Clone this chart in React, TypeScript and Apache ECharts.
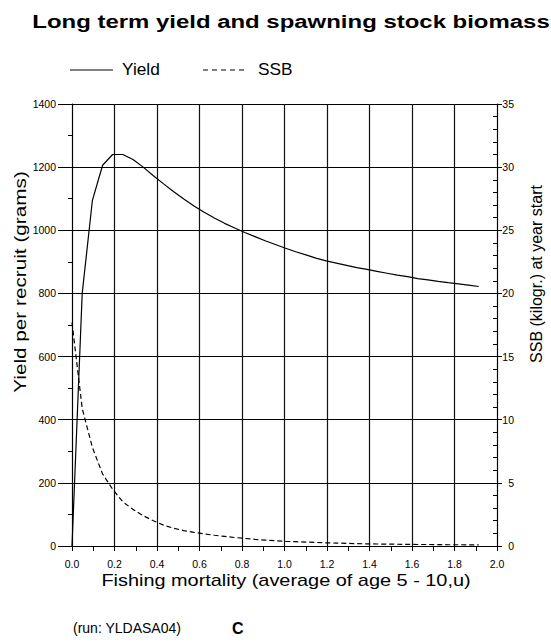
import React, { useEffect, useRef } from "react";
import * as echarts from "echarts";

// Fishing mortality (average of age 5 - 10)
const fishingMortality = [
  0, 0.048, 0.096, 0.144, 0.191, 0.239, 0.287, 0.335, 0.383, 0.431, 0.479,
  0.526, 0.574, 0.622, 0.67, 0.718, 0.766, 0.813, 0.861, 0.909, 0.957,
  1.005, 1.053, 1.101, 1.148, 1.196, 1.244, 1.292, 1.34, 1.388, 1.435,
  1.483, 1.531, 1.579, 1.627, 1.675, 1.723, 1.77, 1.818, 1.866, 1.914,
];

// Yield per recruit (grams)
const yieldValues = [
  0, 800, 1095, 1206, 1240, 1240, 1224, 1200, 1173, 1147, 1122,
  1099, 1077, 1057, 1039, 1022, 1007, 993, 980, 967, 955,
  943, 932, 922, 912, 903, 896, 889, 882, 876, 870,
  864, 858, 853, 847, 843, 838, 834, 830, 826, 822,
];

// SSB (kilogr.) at year start
const ssbValues = [
  17.7, 10.9, 7.8, 5.7, 4.5, 3.5, 2.9, 2.4, 2.0, 1.65, 1.4,
  1.22, 1.08, 0.96, 0.85, 0.76, 0.67, 0.6, 0.53, 0.47, 0.42,
  0.37, 0.34, 0.31, 0.28, 0.25, 0.23, 0.21, 0.19, 0.17, 0.16,
  0.15, 0.14, 0.13, 0.12, 0.12, 0.11, 0.1, 0.1, 0.09, 0.09,
];

const titleText = "Long term yield and spawning stock biomass";
const xAxisName = "Fishing mortality (average of age 5 - 10,u)";
const leftAxisName = "Yield per recruit (grams)";
const rightAxisName = "SSB (kilogr.) at year start";
const seriesNames = ["Yield", "SSB"];
const runLabel = "(run: YLDASA04)";
const panelLabel = "C";

const FONT = "'Liberation Sans', Arial, Helvetica, sans-serif";

export default function App() {
  const ref = useRef<HTMLDivElement>(null);

  useEffect(() => {
    if (!ref.current) return;
    const chart = echarts.init(ref.current, undefined, { renderer: "svg" });
    const black = "#000";
    const option: any = {
      animation: false,
      backgroundColor: "#fff",
      textStyle: { fontFamily: FONT, color: black },
      grid: { left: 72, right: 54, top: 104, bottom: 96, containLabel: false },
      xAxis: {
        type: "value",
        min: 0,
        max: 2,
        interval: 0.2,
        axisLine: { show: true, onZero: false, lineStyle: { color: black, width: 1 } },
        axisTick: { show: true, length: 5, lineStyle: { color: black } },
        minorTick: { show: true, splitNumber: 2, length: 5, lineStyle: { color: black } },
        splitLine: { show: true, lineStyle: { color: "#111", width: 1.2, type: "solid" } },
        axisLabel: {
          color: black,
          fontSize: 10.5,
          fontFamily: FONT,
          margin: 12,
          formatter: (v: number) => v.toFixed(1),
        },
      },
      yAxis: [
        {
          type: "value",
          position: "left",
          min: 0,
          max: 1400,
          interval: 200,
          axisLine: { show: true, lineStyle: { color: black, width: 1 } },
          axisTick: { show: true, length: 14, lineStyle: { color: black } },
          minorTick: { show: true, splitNumber: 2, length: 4, lineStyle: { color: black } },
          splitLine: { show: true, lineStyle: { color: black, width: 1 } },
          axisLabel: {
            color: black,
            fontSize: 10.5,
            fontFamily: FONT,
            margin: 16,
            formatter: (v: number) => String(v),
          },
        },
        {
          type: "value",
          position: "right",
          min: 0,
          max: 35,
          interval: 5,
          axisLine: { show: true, lineStyle: { color: black, width: 1 } },
          axisTick: { show: true, length: 5, lineStyle: { color: black } },
          splitLine: { show: false },
          axisLabel: {
            color: black,
            fontSize: 10.5,
            fontFamily: FONT,
            margin: 17,
            align: "right",
            formatter: (v: number) => String(v),
          },
        },
        {
          type: "value",
          position: "right",
          min: 0,
          max: 35,
          interval: 1,
          axisLine: { show: false },
          axisTick: { show: true, inside: true, length: 4, lineStyle: { color: black } },
          splitLine: { show: false },
          axisLabel: { show: false },
        },
      ],
      series: [
        {
          name: seriesNames[0],
          type: "line",
          yAxisIndex: 0,
          symbol: "none",
          z: 3,
          lineStyle: { color: black, width: 1.2 },
          data: fishingMortality.map((f, i) => [f, yieldValues[i]]),
        },
        {
          name: seriesNames[1],
          type: "line",
          yAxisIndex: 1,
          symbol: "none",
          z: 3,
          lineStyle: { color: black, width: 1.2, type: [5, 3] },
          data: fishingMortality.map((f, i) => [f, ssbValues[i]]),
        },
      ],
      graphic: [
        {
          type: "text",
          x: 291,
          y: 21,
          scaleX: 1.26,
          style: {
            text: titleText,
            font: `bold 19px ${FONT}`,
            fill: black,
            align: "center",
            verticalAlign: "middle",
          },
        },
        {
          type: "line",
          shape: { x1: 70, y1: 70, x2: 113, y2: 70 },
          style: { stroke: black, lineWidth: 1.2 },
        },
        {
          type: "text",
          x: 122,
          y: 70,
          scaleX: 1.08,
          style: { text: seriesNames[0], font: `16px ${FONT}`, fill: black, align: "left", verticalAlign: "middle" },
        },
        {
          type: "line",
          shape: { x1: 203, y1: 70, x2: 246, y2: 70 },
          style: { stroke: black, lineWidth: 1.2, lineDash: [5, 4] },
        },
        {
          type: "text",
          x: 258,
          y: 70,
          scaleX: 1.08,
          style: { text: seriesNames[1], font: `16px ${FONT}`, fill: black, align: "left", verticalAlign: "middle" },
        },
        {
          type: "text",
          x: 286,
          y: 580,
          scaleX: 1.17,
          style: { text: xAxisName, font: `17px ${FONT}`, fill: black, align: "center", verticalAlign: "middle" },
        },
        {
          type: "text",
          x: 20,
          y: 282,
          rotation: Math.PI / 2,
          scaleX: 1.22,
          style: { text: leftAxisName, font: `17px ${FONT}`, fill: black, align: "center", verticalAlign: "middle" },
        },
        {
          type: "text",
          x: 536,
          y: 274,
          rotation: Math.PI / 2,
          style: { text: rightAxisName, font: `16px ${FONT}`, fill: black, align: "center", verticalAlign: "middle" },
        },
        {
          type: "text",
          x: 73,
          y: 628,
          style: { text: runLabel, font: `14px ${FONT}`, fill: black, align: "left", verticalAlign: "middle" },
        },
        {
          type: "text",
          x: 232,
          y: 628,
          style: { text: panelLabel, font: `bold 16px ${FONT}`, fill: black, align: "left", verticalAlign: "middle" },
        },
      ],
    };
    chart.setOption(option);
    return () => chart.dispose();
  }, []);

  return (
    <div
      ref={ref}
      style={{ position: "fixed", left: 0, top: 0, width: 551, height: 642, background: "#fff" }}
    />
  );
}
